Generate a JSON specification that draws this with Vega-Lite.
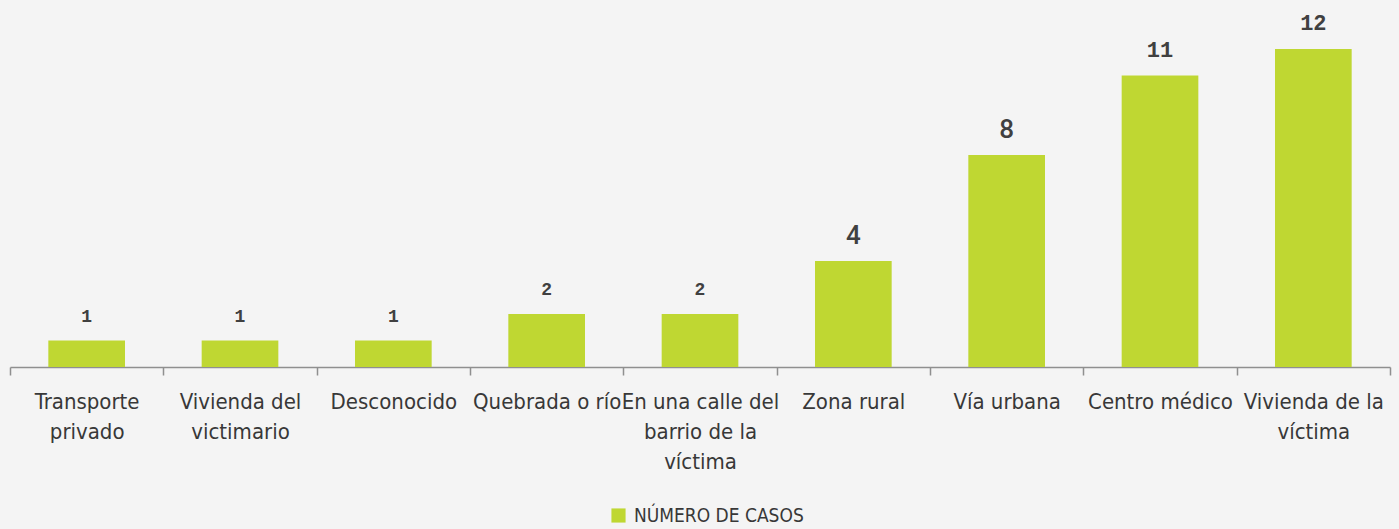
{
  "$schema": "https://vega.github.io/schema/vega-lite/v6.json",
  "width": 1380,
  "height": 367,
  "autosize": {"type": "none"},
  "padding": {"left": 10, "right": 9, "top": 0, "bottom": 162},
  "background": "#f4f4f4",
  "config": {"view": {"stroke": null}},
  "data": {
    "values": [
      {"lugar": "Transporte privado", "casos": 1},
      {"lugar": "Vivienda del victimario", "casos": 1},
      {"lugar": "Desconocido", "casos": 1},
      {"lugar": "Quebrada o río", "casos": 2},
      {"lugar": "En una calle del barrio de la víctima", "casos": 2},
      {"lugar": "Zona rural", "casos": 4},
      {"lugar": "Vía urbana", "casos": 8},
      {"lugar": "Centro médico", "casos": 11},
      {"lugar": "Vivienda de la víctima", "casos": 12}
    ]
  },
  "encoding": {
    "x": {
      "field": "lugar",
      "type": "nominal",
      "sort": null,
      "scale": {"paddingInner": 0, "paddingOuter": 0},
      "axis": {
        "title": null,
        "labelAngle": 0,
        "domainColor": "#8f8f8f",
        "domainWidth": 1.5,
        "tickColor": "#8f8f8f",
        "tickWidth": 1.5,
        "tickSize": 8,
        "tickBand": "extent",
        "labelFont": "DejaVu Sans Condensed, DejaVu Sans, sans-serif",
        "labelFontSize": 22,
        "labelColor": "#383838",
        "labelPadding": 16,
        "labelLineHeight": 30,
        "labelBaseline": "top",
        "labelLimit": 300,
        "labelExpr": "datum.label == 'Transporte privado' ? ['Transporte','privado'] : datum.label == 'Vivienda del victimario' ? ['Vivienda del','victimario'] : datum.label == 'En una calle del barrio de la víctima' ? ['En una calle del','barrio de la','víctima'] : datum.label == 'Vivienda de la víctima' ? ['Vivienda de la','víctima'] : datum.label"
      }
    },
    "y": {
      "field": "casos",
      "type": "quantitative",
      "scale": {"domain": [0, 13.85], "nice": false},
      "axis": null
    }
  },
  "layer": [
    {
      "mark": {"type": "bar", "color": "#bfd732", "width": {"band": 0.5}},
      "encoding": {
        "color": {
          "datum": "NÚMERO DE CASOS",
          "scale": {"range": ["#bfd732"]},
          "legend": {
            "title": null,
            "orient": "none",
            "legendX": 599,
            "legendY": 506,
            "symbolType": "square",
            "symbolSize": 200,
            "symbolStrokeWidth": 0,
            "symbolOpacity": 1,
            "labelFont": "DejaVu Sans Condensed, DejaVu Sans, sans-serif",
            "labelFontSize": 19,
            "labelColor": "#383838",
            "labelOffset": 6,
            "labelLimit": 400
          }
        }
      }
    },
    {
      "transform": [{"filter": "datum.casos != 4 && datum.casos != 8"}],
      "mark": {
        "type": "text",
        "font": "Liberation Mono, DejaVu Sans Mono, monospace",
        "fontWeight": "bold",
        "color": "#404040",
        "baseline": "alphabetic",
        "dy": -19
      },
      "encoding": {
        "text": {"field": "casos", "type": "quantitative"},
        "size": {"condition": {"test": "datum.casos > 9", "value": 22}, "value": 18}
      }
    },
    {
      "transform": [{"filter": "datum.casos == 4 || datum.casos == 8"}],
      "mark": {
        "type": "text",
        "font": "Roboto, sans-serif",
        "fontWeight": 500,
        "fontSize": 26,
        "color": "#404040",
        "baseline": "alphabetic",
        "dy": -17
      },
      "encoding": {
        "text": {"field": "casos", "type": "quantitative"}
      }
    }
  ]
}
